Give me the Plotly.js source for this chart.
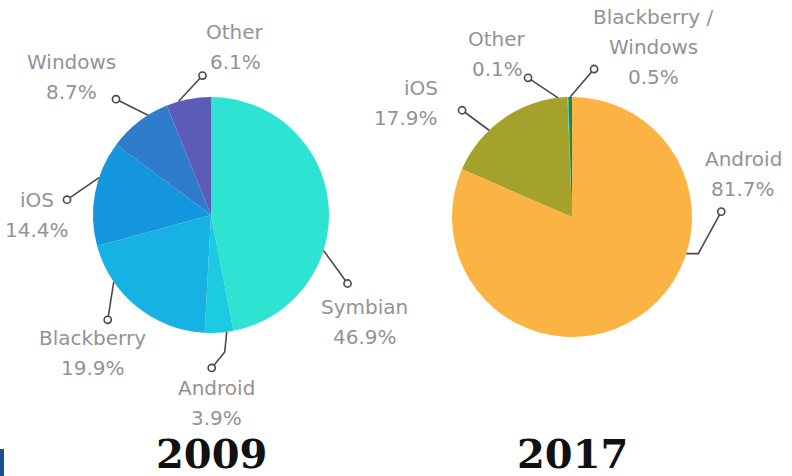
<!DOCTYPE html>
<html><head><meta charset="utf-8">
<script src="https://cdn.plot.ly/plotly-3.0.1.min.js"></script>
<style>html,body{margin:0;padding:0;background:#fff;}</style>
</head><body><div id="chart" style="width:792px;height:476px;"></div>
<script>
// ---- data ----
const years = ["2009", "2017"];
const labels2009 = ["Symbian", "Android", "Blackberry", "iOS", "Windows", "Other"];
const values2009 = [46.9, 3.9, 19.9, 14.4, 8.7, 6.1];
const labels2017 = ["Android", "iOS", "Other", "Blackberry /<br>Windows"];
const values2017 = [81.7, 17.9, 0.1, 0.5];

// ---- styles ----
const colors2009 = ["#2fe3d3", "#1ccbe2", "#15b2e3", "#1396dc", "#2e7ccb", "#5a5cb6"];
const colors2017 = ["#fbb443", "#a5a22c", "#36d3c4", "#178a4c"];

const W = 792, H = 476;
const pieGeom = [{cx: 211, cy: 215, r: 118}, {cx: 572, cy: 217, r: 120}];

// label placement (angle tweak in deg, pixel offsets)
const labelLayout = [
  [
    {dAng: 23,   circ: [24, 33],  text: [17, 24]},
    {dAng: -3.7, elbow: [-2, 20], circ: [-15, 36], text: [5, 20]},
    {dAng: 16.6, circ: [-6, 38],  text: [-15, 18]},
    {dAng: 7.7,  circ: [-32, 22], text: [-30, 0]},
    {dAng: 5.4,  circ: [-32, -16], text: [-45, -37]},
    {dAng: -5,   circ: [24, -26], text: [33, -44]}
  ],
  [
    {dAng: -39,  elbow: [12, 0], circ: [35, -42], text: [22, -53]},
    {dAng: -9.4, circ: [-27, -20], text: [-22, -22], xanchor: 'right'},
    {dAng: -4.7, circ: [-30, -20], text: [-31, -39]},
    {dAng: 0,    circ: [24, -28], text: [59, -52]}
  ]
];

const px = x => x / W;
const py = y => 1 - y / H;

const sets = [
  {labels: labels2009, values: values2009, colors: colors2009},
  {labels: labels2017, values: values2017, colors: colors2017}
];

const traces = [];
const shapes = [];
const circles = [];
const annotations = [];

sets.forEach((s, k) => {
  const g = pieGeom[k];
  traces.push({
    type: 'pie',
    labels: s.labels,
    values: s.values,
    marker: {colors: s.colors, line: {width: 0}},
    sort: false,
    direction: 'clockwise',
    rotation: 0,
    textinfo: 'none',
    hoverinfo: 'none',
    showlegend: false,
    domain: {x: [px(g.cx - g.r), px(g.cx + g.r)], y: [py(g.cy + g.r), py(g.cy - g.r)]}
  });
  const total = s.values.reduce((a, b) => a + b, 0);
  let cum = 0;
  s.values.forEach((v, i) => {
    const mid = (cum + v / 2) / total * 360;
    cum += v;
    const L = labelLayout[k][i];
    const ang = (mid + L.dAng) * Math.PI / 180;
    const ax = g.cx + g.r * Math.sin(ang);
    const ay = g.cy - g.r * Math.cos(ang);
    const cx = ax + L.circ[0], cy = ay + L.circ[1];
    let path = `M ${px(ax)} ${py(ay)}`;
    if (L.elbow) path += ` L ${px(ax + L.elbow[0])} ${py(ay + L.elbow[1])}`;
    path += ` L ${px(cx)} ${py(cy)}`;
    shapes.push({type: 'path', xref: 'paper', yref: 'paper', path: path,
      line: {color: '#4a4a4a', width: 1.6}});
    circles.push({type: 'circle', xref: 'paper', yref: 'paper',
      xsizemode: 'pixel', ysizemode: 'pixel',
      xanchor: px(cx), yanchor: py(cy), x0: -3.6, x1: 3.6, y0: -3.6, y1: 3.6,
      fillcolor: '#ffffff', line: {color: '#4a4a4a', width: 1.6}});
    const lines = s.labels[i].split('<br>').concat([v.toFixed(1) + '%']);
    lines.forEach((t, j) => {
      annotations.push({
        xref: 'paper', yref: 'paper',
        x: px(cx + L.text[0]), y: py(cy + L.text[1] + j * 30),
        text: t, showarrow: false,
        xanchor: L.xanchor || 'center', yanchor: 'middle',
        font: {family: 'DejaVu Sans, sans-serif', size: 20, color: '#939393'}
      });
    });
  });
  annotations.push({
    xref: 'paper', yref: 'paper', x: px(g.cx), y: py(453),
    text: '<b>' + years[k] + '</b>', showarrow: false,
    xanchor: 'center', yanchor: 'middle',
    font: {family: 'DejaVu Serif, serif', size: 40, color: '#111111'}
  });
});

// small blue edge mark at bottom-left corner
shapes.push({type: 'rect', xref: 'paper', yref: 'paper', x0: 0, x1: px(4), y0: 0, y1: py(449),
  fillcolor: '#1d4f8f', line: {width: 0}});

Plotly.newPlot('chart', traces, {
  width: W, height: H,
  margin: {l: 0, r: 0, t: 0, b: 0},
  paper_bgcolor: '#ffffff',
  shapes: shapes.concat(circles),
  annotations: annotations
}, {displayModeBar: false, staticPlot: true});
</script>
</body></html>
